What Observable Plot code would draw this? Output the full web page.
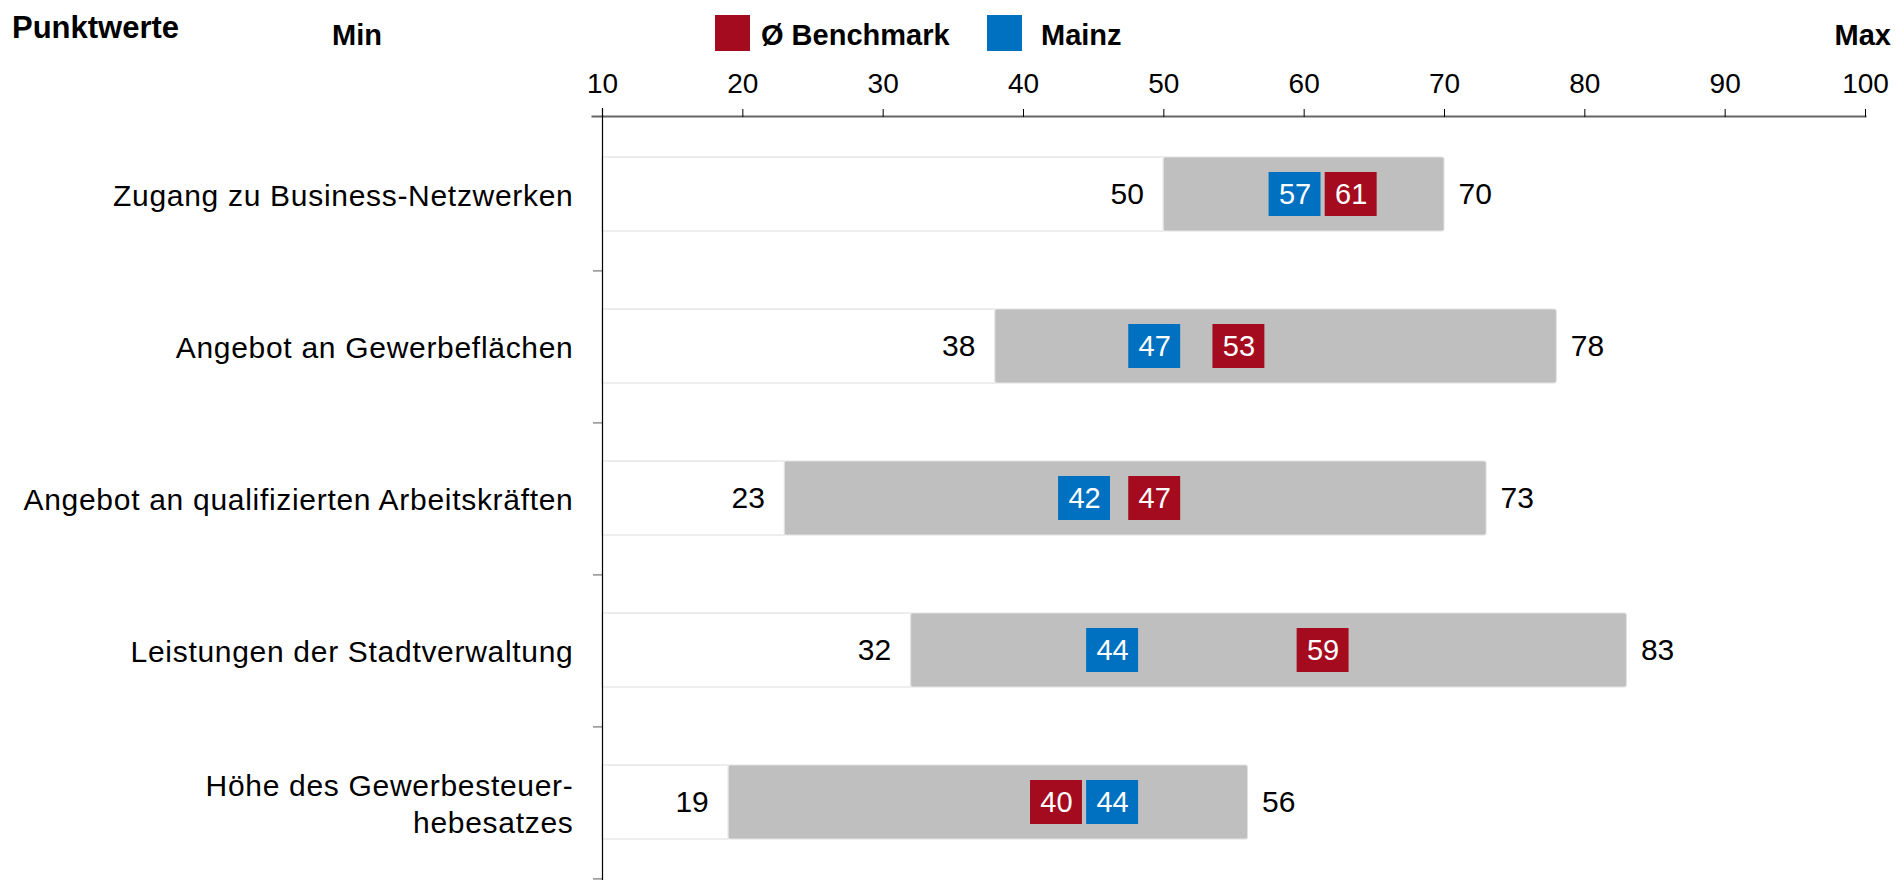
<!DOCTYPE html>
<html><head><meta charset="utf-8">
<script src="https://cdn.jsdelivr.net/npm/d3@7"></script>
<script src="https://cdn.jsdelivr.net/npm/@observablehq/plot@0.6"></script>
<style>
html,body{margin:0;padding:0;background:#fff;overflow:hidden;}
body{width:1904px;height:880px;font-family:"Liberation Sans",Arial,Helvetica,sans-serif;color:#000;}
#header{position:relative;height:60px;width:1904px;}
#header .t{position:absolute;font-weight:bold;line-height:1;white-space:nowrap;}
#header .sw{position:absolute;}
#chart svg{display:block;}
g[aria-label="y-axis tick label"] text{letter-spacing:0.7px;}
</style></head><body>
<div id="header"></div>
<div id="chart"></div>
<script>
// ---- data ----
const categories = [
  "Zugang zu Business-Netzwerken",
  "Angebot an Gewerbeflächen",
  "Angebot an qualifizierten Arbeitskräften",
  "Leistungen der Stadtverwaltung",
  "Höhe des Gewerbesteuer-\nhebesatzes"
];
const minValues = [50, 38, 23, 32, 19];
const maxValues = [70, 78, 73, 83, 56];
const benchmarkValues = [61, 53, 47, 59, 40];
const mainzValues = [57, 47, 42, 44, 44];
const xTicks = [10, 20, 30, 40, 50, 60, 70, 80, 90, 100];
const seriesNames = ["Ø Benchmark", "Mainz"];
const seriesColors = ["#a50b1e", "#0070c0"];
const axisTitle = "Punktwerte";
const minTitle = "Min";
const maxTitle = "Max";

// ---- derived tables ----
const rows = categories.map((c, i) => ({cat: c, min: minValues[i], max: maxValues[i]}));
const markers = categories.flatMap((c, i) => [
  {cat: c, series: seriesNames[0], v: benchmarkValues[i]},
  {cat: c, series: seriesNames[1], v: mainzValues[i]}
]);

// ---- header (title, min/max, legend) ----
const header = document.getElementById("header");
function addText(txt, size, css) {
  const d = document.createElement("div");
  d.className = "t";
  d.textContent = txt;
  d.style.fontSize = size + "px";
  Object.assign(d.style, css);
  header.appendChild(d);
}
function addSwatch(color, css) {
  const d = document.createElement("div");
  d.className = "sw";
  d.style.background = color;
  Object.assign(d.style, css);
  header.appendChild(d);
}
addText(axisTitle, 31, {left: "12px", top: "12px"});
addText(minTitle, 29, {left: "332px", top: "21px"});
addText(maxTitle, 29, {right: "13px", top: "21px"});
addSwatch(seriesColors[0], {left: "715px", top: "15px", width: "35px", height: "36px"});
addText(seriesNames[0], 29, {left: "761px", top: "21px"});
addSwatch(seriesColors[1], {left: "987px", top: "15px", width: "35px", height: "36px"});
addText(seriesNames[1], 29, {left: "1041px", top: "21px"});

// ---- chart ----
const W = 1904, H = 820, mT = 56, mL = 602, mR = 39;
const step = (H - mT) / categories.length;
const boxOffset = 0.5, boxWidth = 3.7;

const chart = Plot.plot({
  width: W, height: H,
  marginTop: mT, marginLeft: mL, marginRight: mR, marginBottom: 0,
  style: {fontFamily: "'Liberation Sans', Arial, Helvetica, sans-serif", color: "#000", background: "#fff", overflow: "visible"},
  x: {domain: [xTicks[0], xTicks[xTicks.length - 1]]},
  y: {domain: categories, paddingInner: 0.516, paddingOuter: 0.258},
  color: {domain: seriesNames, range: seriesColors},
  marks: [
    Plot.barX(rows, {y: "cat", x1: () => xTicks[0], x2: "min", fill: "#fff", stroke: "#e8e8e8", strokeWidth: 1.5}),
    Plot.barX(rows, {y: "cat", x1: "min", x2: "max", fill: "#bfbfbf", stroke: "#e2e2e2", strokeWidth: 1, rx: 2}),
    Plot.barX(markers, {y: "cat", x1: d => d.v + boxOffset, x2: d => d.v + boxOffset + boxWidth, fill: "series", insetTop: 15, insetBottom: 15}),
    Plot.text(markers, {y: "cat", x: d => d.v + boxOffset + boxWidth / 2, text: d => String(d.v), fill: "#fff", fontSize: 29}),
    Plot.text(rows, {y: "cat", x: "min", text: d => String(d.min), textAnchor: "end", dx: -20, fontSize: 30, fill: "#000"}),
    Plot.text(rows, {y: "cat", x: "max", text: d => String(d.max), textAnchor: "start", dx: 14, fontSize: 30, fill: "#000"}),
    Plot.axisY({anchor: "left", label: null, tickSize: 0, tickPadding: 29, fontSize: 30, lineHeight: 1.22, textAnchor: "end", fill: "#000"}),
    Plot.ruleY(categories, {y: d => d, dy: step / 2, x1: () => xTicks[0], x2: () => xTicks[0], insetLeft: -9, stroke: "#7f7f7f", strokeWidth: 1.3}),
    Plot.frame({anchor: "top", stroke: "#666", strokeWidth: 2, insetLeft: -10}),
    Plot.frame({anchor: "left", stroke: "#000", strokeWidth: 1.2, insetTop: -8}),
    Plot.axisX({anchor: "top", label: null, ticks: xTicks, tickSize: 8, tickPadding: 16, fontSize: 28, tickFormat: d => String(d), stroke: "#000", fill: "#000"})
  ]
});
document.getElementById("chart").appendChild(chart);
</script>
</body></html>
